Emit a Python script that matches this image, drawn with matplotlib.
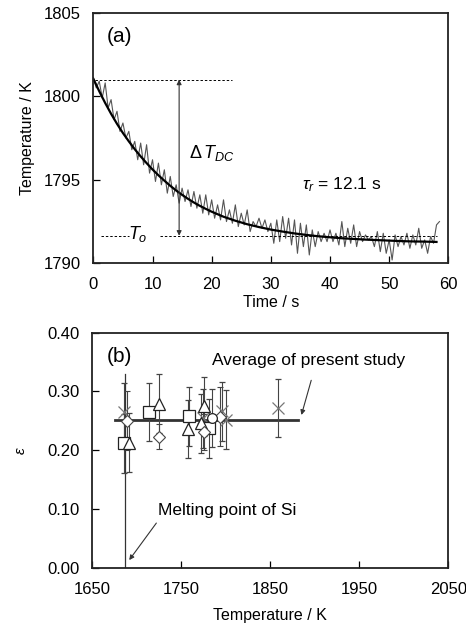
import numpy as np
import matplotlib
matplotlib.use('Agg')
import matplotlib.pyplot as plt

plt.rcParams['font.family'] = ['Liberation Sans', 'DejaVu Sans']
plt.rcParams['mathtext.fontset'] = 'custom'
plt.rcParams['mathtext.rm'] = 'Liberation Sans'
plt.rcParams['mathtext.it'] = 'Liberation Sans:italic'

# ---- panel (a): cooling curve ----
temp_noisy = [1801.1, 1800.5, 1800.9, 1799.9, 1800.8, 1799.3, 1799.8, 1798.6, 1799.1, 1797.9,
              1798.4, 1797.5, 1797.9, 1796.8, 1797.3, 1796.2, 1797.2, 1795.9, 1797.1, 1795.4,
              1796.2, 1794.9, 1796.0, 1794.7, 1795.6, 1794.2, 1795.2, 1794.0, 1794.7, 1793.6,
              1794.5, 1793.7, 1794.4, 1793.4, 1794.3, 1793.3, 1794.1, 1793.0, 1794.1, 1792.9,
              1793.8, 1792.7, 1793.5, 1792.6, 1793.8, 1792.5, 1793.2, 1792.4, 1793.5, 1792.2,
              1793.0, 1792.3, 1793.2, 1791.9, 1792.5, 1792.2, 1792.7, 1792.1, 1792.6, 1791.9,
              1792.4, 1791.2, 1792.6, 1791.3, 1792.8, 1791.5, 1792.7, 1791.1, 1792.6, 1790.6,
              1792.4, 1791.0, 1792.3, 1790.5, 1792.0, 1791.0, 1791.9, 1791.3, 1791.8, 1791.3,
              1792.0, 1791.3, 1791.8, 1791.1, 1792.5, 1791.0, 1792.1, 1791.2, 1792.3, 1791.0,
              1791.9, 1791.3, 1791.7, 1791.4, 1791.6, 1791.0, 1791.9, 1790.7, 1791.8, 1790.6,
              1791.4, 1790.2, 1791.7, 1791.0, 1791.6, 1791.1, 1791.8, 1790.9, 1791.7, 1791.1,
              1792.1, 1790.9, 1791.4, 1790.6, 1791.6, 1791.2, 1792.3, 1792.5]
time_noisy = np.arange(len(temp_noisy)) * 0.5

fit_time = [0, 1, 2, 3, 4, 5, 6, 7, 8, 9, 10, 11, 12, 13, 14, 15, 16, 17, 18, 19, 20,
            22, 24, 26, 28, 30, 32, 34, 36, 38, 40, 42, 44, 46, 48, 50, 52, 54, 56, 58]
fit_temp = [1801.05, 1800.3, 1799.6, 1798.95, 1798.35, 1797.8, 1797.3, 1796.83, 1796.4, 1796.0,
            1795.62, 1795.27, 1794.95, 1794.64, 1794.36, 1794.1, 1793.86, 1793.64, 1793.44,
            1793.26, 1793.09, 1792.79, 1792.55, 1792.34, 1792.17, 1792.02, 1791.9, 1791.79,
            1791.7, 1791.62, 1791.56, 1791.5, 1791.46, 1791.42, 1791.39, 1791.36, 1791.33,
            1791.31, 1791.3, 1791.28]

t_start = 1801.0   # initial temperature (upper dashed line)
t_zero = 1791.65   # T_o (lower dashed line)
arrow_time = 14.5

# ---- panel (b): emissivity ----
sq_T = [1686, 1714, 1759, 1781]
sq_eps = [0.212, 0.265, 0.258, 0.237]
sq_err = [0.05, 0.05, 0.05, 0.05]

tri_T = [1691, 1725, 1758, 1772, 1776]
tri_eps = [0.213, 0.279, 0.236, 0.246, 0.275]
tri_err = [0.05, 0.05, 0.05, 0.05, 0.05]

dia_T = [1689, 1725, 1776, 1793]
dia_eps = [0.250, 0.223, 0.231, 0.257]
dia_err = [0.05, 0.021, 0.03, 0.05]

circ_T = [1785]
circ_eps = [0.255]
circ_err = [0.05]

x_T = [1686, 1774, 1796, 1800, 1859]
x_eps = [0.265, 0.254, 0.266, 0.252, 0.272]
x_err = [0.05, 0.05, 0.05, 0.05, 0.05]

avg_eps = 0.251
avg_range = [1676, 1881]
melting_point = 1687
melting_top = 0.33

fig = plt.figure(figsize=(4.66, 6.28), dpi=100)

# panel a
ax1 = fig.add_axes([0.2003, 0.5807, 0.7618, 0.399])
ax1.plot(time_noisy, temp_noisy, color='#555555', lw=0.8)
ax1.plot(fit_time, fit_temp, color='black', lw=1.6)
ax1.plot([0.3, 23.5], [t_start, t_start], color='black', lw=0.7, ls=(0, (2.5, 2)))
ax1.plot([1.3, 6.0], [t_zero, t_zero], color='black', lw=0.7, ls=(0, (2.5, 2)))
ax1.plot([11.2, 58.0], [t_zero, t_zero], color='black', lw=0.7, ls=(0, (2.5, 2)))
ax1.annotate('', xy=(arrow_time, t_start), xytext=(arrow_time, t_zero),
             arrowprops=dict(arrowstyle='<|-|>', color='#333333', lw=0.8,
                             mutation_scale=7, shrinkA=0, shrinkB=0))
ax1.text(2.3, 1803.55, '(a)', fontsize=15, va='center', ha='left')
ax1.text(16.2, 1796.6, r'$\Delta\,T_{DC}$', fontsize=13, va='center', ha='left')
ax1.text(35.2, 1794.7, r'$\tau_r$ = 12.1 s', fontsize=12.5, va='center', ha='left')
ax1.text(7.6, 1791.75, r'$T_o$', fontsize=13, va='center', ha='center')
ax1.set_xlim(0, 60)
ax1.set_ylim(1790, 1805)
ax1.set_xticks(range(0, 61, 10))
ax1.set_yticks([1790, 1795, 1800, 1805])
ax1.set_xlabel('Time / s', fontsize=11.5, labelpad=2)
ax1.set_ylabel('Temperature / K', fontsize=11.5, labelpad=6)

# panel b
ax2 = fig.add_axes([0.198, 0.096, 0.764, 0.3742])
ax2.plot([melting_point, melting_point], [0, melting_top], color='#333333', lw=0.9)
ax2.plot(avg_range, [avg_eps, avg_eps], color='#333333', lw=2.0, zorder=2)
eb = dict(ecolor='#444444', elinewidth=0.8, capsize=2.5, capthick=0.8, ls='none', zorder=3)
ax2.errorbar(x_T, x_eps, yerr=x_err, fmt='x', ms=8, mec='#777777', mew=0.9, **eb)
ax2.errorbar(sq_T, sq_eps, yerr=sq_err, fmt='s', ms=8, mfc='white', mec='#222222', mew=0.9, **eb)
ax2.errorbar(tri_T, tri_eps, yerr=tri_err, fmt='^', ms=8, mfc='white', mec='#222222', mew=0.9, **eb)
ax2.errorbar(dia_T, dia_eps, yerr=dia_err, fmt='D', ms=6, mfc='white', mec='#444444', mew=0.8, **eb)
ax2.errorbar(circ_T, circ_eps, yerr=circ_err, fmt='o', ms=7, mfc='white', mec='#222222', mew=0.9, **eb)
ax2.text(1666, 0.359, '(b)', fontsize=15, va='center', ha='left')
ax2.text(1784, 0.353, 'Average of present study', fontsize=12.5, va='center', ha='left')
ax2.annotate('', xy=(1885, 0.26), xytext=(1896, 0.319),
             arrowprops=dict(arrowstyle='-|>', color='#333333', lw=0.8,
                             mutation_scale=7, shrinkA=0, shrinkB=0))
ax2.text(1724, 0.098, 'Melting point of Si', fontsize=12.5, va='center', ha='left')
ax2.annotate('', xy=(1691.5, 0.013), xytext=(1722, 0.076),
             arrowprops=dict(arrowstyle='-|>', color='#333333', lw=0.8,
                             mutation_scale=7, shrinkA=0, shrinkB=0))
ax2.set_xlim(1650, 2050)
ax2.set_ylim(0, 0.40)
ax2.set_xticks([1650, 1750, 1850, 1950, 2050])
ax2.set_yticks([0, 0.1, 0.2, 0.3, 0.4])
ax2.set_yticklabels(['0.00', '0.10', '0.20', '0.30', '0.40'])
ax2.set_xlabel('Temperature / K', fontsize=11.5, labelpad=8)
ax2.set_ylabel(r'$\varepsilon$', fontsize=11, labelpad=14)

for ax in (ax1, ax2):
    ax.tick_params(direction='in', length=5, width=0.9, labelsize=12,
                   top=False, right=False)
    ax.tick_params(axis='x', pad=10)
    ax.tick_params(axis='y', pad=9)
    for s in ax.spines.values():
        s.set_linewidth(1.3)
        s.set_color('#222222')

fig.savefig('out.png', dpi=100)
